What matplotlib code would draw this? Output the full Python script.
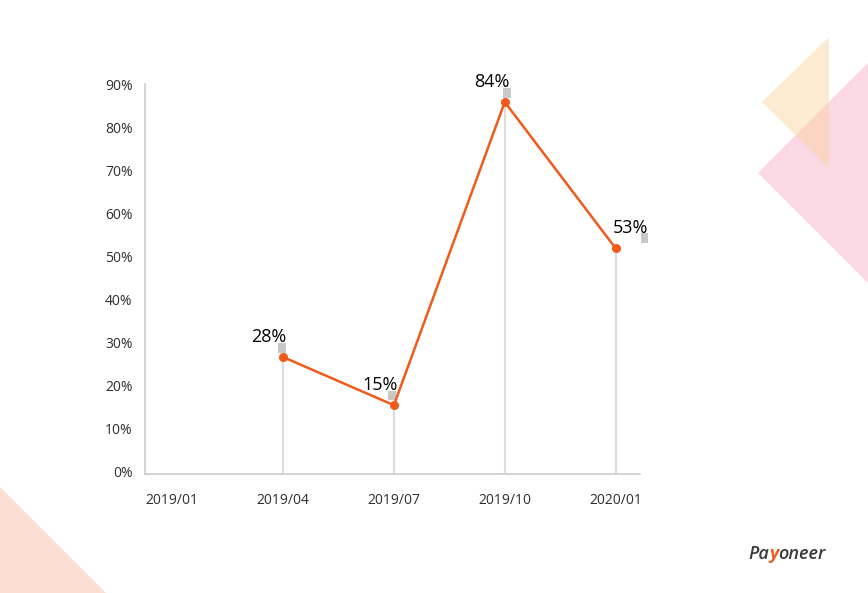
import matplotlib.pyplot as plt
from matplotlib.patches import Polygon, Rectangle
from matplotlib.transforms import ScaledTranslation
import numpy as np

# data
months = ["2019/01", "2019/04", "2019/07", "2019/10", "2020/01"]
share = [np.nan, 27.2, 16.0, 86.5, 52.5]
share_labels = ["", "28%", "15%", "84%", "53%"]
yticks = [0, 10, 20, 30, 40, 50, 60, 70, 80, 90]

ORANGE = "#f05a1a"
GREY_LINE = "#dcdcdc"

plt.rcParams["font.family"] = ["Open Sans", "DejaVu Sans"]

fig = plt.figure(figsize=(8.68, 5.93), dpi=100)

# decorative shapes in figure pixel coords (y from top)
def fig_poly(pts, color, alpha=1.0):
    xy = [(x / 868, 1 - y / 593) for x, y in pts]
    fig.patches.append(Polygon(xy, closed=True, transform=fig.transFigure,
                               facecolor=color, edgecolor="none", alpha=alpha, zorder=0))

fig_poly([(758, 173), (868, 63), (868, 283)], "#f4a9c4", 0.45)
fig_poly([(829, 37), (762, 102), (829, 168)], "#fbd49a", 0.45)
fig_poly([(0, 487), (106, 593), (0, 593)], "#fdd9cc", 0.85)

ax = fig.add_axes([145 / 868, 1 - 474 / 593, 495 / 868, 390 / 593])
ax.set_facecolor("none")
x = np.arange(len(months))

# drop lines from axis to each point
for xi, v in zip(x, share):
    if not np.isnan(v):
        ax.vlines(xi, 0, v, color=GREY_LINE, lw=1.5, zorder=1)

ax.plot(x, share, color=ORANGE, lw=1.8, marker="o", ms=5.5, zorder=3)

# labels and the little grey boxes next to them
box_dx = [0, -0.01, -0.02, 0.02, 0.26]
box_dy = [0, 1.0, 1.2, 1.0, 1.3]
lab_dx = [0, -0.13, -0.12, -0.12, 0.13]
for xi, v, lab, bdx, bdy, ldx in zip(x, share, share_labels, box_dx, box_dy, lab_dx):
    if np.isnan(v):
        continue
    ax.add_patch(Rectangle((xi + bdx - 0.035, v + bdy), 0.07, 2.2,
                           facecolor="#c8c8c8", edgecolor="none", clip_on=False, zorder=2))
    ax.text(xi + ldx, v + 2.6, lab, ha="center", va="bottom", fontsize=13,
            color="#000000", zorder=4)

ax.set_xlim(-0.245, 4.22)
ax.set_ylim(0, 90.7)
ax.set_xticks(x)
ax.set_xticklabels(months)
ax.set_yticks(yticks)
ax.set_yticklabels([f"{t}%" for t in yticks])
ax.tick_params(length=0, labelsize=10, colors="#2e2e2e")
ax.tick_params(axis="x", pad=14)
ax.tick_params(axis="y", pad=9)
up = ScaledTranslation(0, 2.5 / 100, fig.dpi_scale_trans)
for lbl in ax.get_yticklabels():
    lbl.set_transform(lbl.get_transform() + up)
for s in ["top", "right"]:
    ax.spines[s].set_visible(False)
for s in ["left", "bottom"]:
    ax.spines[s].set_color("#cccccc")
    ax.spines[s].set_linewidth(1.2)

# logo text
t1 = fig.text(748 / 868, 1 - 554 / 593, "Pa", fontsize=13, color="#3a3a3a",
              va="center", ha="left", fontweight="semibold", style="italic")
t2 = ax.annotate("y", xy=(1, 0), xycoords=t1, fontsize=13, color=ORANGE,
                 va="bottom", ha="left", fontweight="bold", style="italic",
                 annotation_clip=False)
ax.annotate("oneer", xy=(1, 0), xycoords=t2, fontsize=13, color="#3a3a3a",
            va="bottom", ha="left", fontweight="semibold", style="italic",
            annotation_clip=False)

fig.savefig("out.png", dpi=100)
